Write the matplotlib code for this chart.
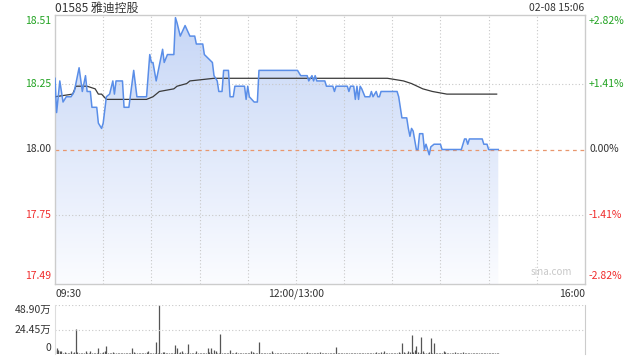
import numpy as np
import matplotlib
matplotlib.use('Agg')
import matplotlib.pyplot as plt
from matplotlib import transforms
from matplotlib.path import Path
from matplotlib.patches import PathPatch

plt.rcParams['font.family'] = ['Noto Sans CJK SC', 'DejaVu Sans']

# Stock info
title = '01585 雅迪控股'
stamp = '02-08 15:06'
prev_close = 18.00

# Price line: minutes since 09:30 (12:00 and 13:00 share minute 150), price
price_min = [0, 1, 3, 5, 7, 10, 12, 15, 17, 19, 20, 22, 23, 26, 27, 29, 30, 32, 34, 36,
             37, 38, 42, 43, 46, 49, 51, 57, 59, 60, 61, 63, 65, 67, 68, 70, 74, 75, 76, 78,
             81, 84, 87, 88, 92, 93, 98, 99, 101, 102, 104, 105, 108, 109, 111, 112, 118, 119, 120, 121,
             124, 126, 127, 151, 153, 157, 158, 160, 161, 162, 163, 165, 168, 169, 173, 174, 175, 182, 183, 184,
             186, 187, 188, 189, 190, 191, 193, 196, 197, 198, 200, 201, 202, 203, 213, 214, 215, 216, 219, 220,
             221, 222, 223, 225, 226, 227, 229, 230, 231, 233, 234, 236, 240, 241, 253, 255, 256, 257, 258, 266,
             267, 269, 270, 276]
price_val = [18.27, 18.14, 18.26, 18.18, 18.20, 18.20, 18.22, 18.31, 18.22, 18.28, 18.22, 18.22, 18.16, 18.16, 18.10, 18.08, 18.10, 18.20, 18.21, 18.26,
             18.21, 18.26, 18.26, 18.16, 18.16, 18.30, 18.20, 18.20, 18.36, 18.33, 18.33, 18.26, 18.32, 18.38, 18.33, 18.36, 18.36, 18.50, 18.48, 18.43,
             18.47, 18.43, 18.43, 18.40, 18.40, 18.36, 18.33, 18.28, 18.26, 18.22, 18.22, 18.30, 18.30, 18.20, 18.20, 18.24, 18.24, 18.19, 18.24, 18.20,
             18.18, 18.18, 18.30, 18.30, 18.28, 18.28, 18.26, 18.28, 18.26, 18.28, 18.26, 18.26, 18.26, 18.24, 18.24, 18.22, 18.24, 18.24, 18.22, 18.24,
             18.24, 18.19, 18.24, 18.19, 18.24, 18.23, 18.20, 18.20, 18.22, 18.20, 18.22, 18.20, 18.20, 18.22, 18.22, 18.20, 18.16, 18.12, 18.12, 18.08,
             18.05, 18.08, 18.07, 18.00, 18.00, 18.06, 18.06, 18.00, 18.02, 17.98, 18.01, 18.02, 18.02, 18.00, 18.00, 18.04, 18.04, 18.02, 18.04, 18.04,
             18.02, 18.02, 18.00, 18.00]

# Average price line
avg_min = [0, 11, 13, 20, 25, 27, 29, 32, 57, 61, 65, 74, 76, 82, 84, 99, 111, 126, 165, 207,
           217, 222, 229, 235, 244, 256, 275]
avg_val = [18.20, 18.21, 18.24, 18.24, 18.23, 18.21, 18.21, 18.19, 18.19, 18.20, 18.22, 18.23, 18.24, 18.25, 18.26, 18.27, 18.27, 18.27, 18.27, 18.27,
           18.26, 18.25, 18.23, 18.22, 18.21, 18.21, 18.21]

# Volume per minute (万股), minute 0 .. 276
volume = [4, 6, 4, 3, 2.5, 1, 1.5, 1, 0.8, 1.2, 2.5, 1, 1.5, 25, 1.5, 1, 0.8, 1, 1.2, 2.5, 1, 0.8, 2.5, 1, 0.7, 0.8, 1, 5.7, 1.2, 1,
          1.5, 3, 8, 1, 1.2, 1, 2, 1, 0.8, 1, 0.7, 0.6, 1, 0.8, 1, 0.6, 0.8, 1, 5.7, 1.5, 1, 0.8, 0.6, 0.7, 1, 0.8, 1, 1.5, 3, 1,
          1, 0.8, 1.2, 12, 1, 48.9, 1, 1.5, 2, 1, 0.8, 1, 0.7, 1, 1.2, 9, 6, 1, 2, 3, 1, 0.8, 1, 10, 1, 0.8, 1.2, 1, 3, 1,
          0.8, 1, 1.2, 1, 0.8, 6, 1.5, 6, 1.2, 4, 2.5, 1, 1.2, 20, 1, 0.8, 1, 1.2, 1, 4, 1, 0.8, 1, 1.5, 0.8, 1, 0.7, 0.8, 1, 0.6,
          0.8, 1, 2.5, 2, 1, 0.8, 1, 12, 1, 0.8, 1, 0.7, 1, 0.8, 1, 2.5, 1, 0.8, 0.7, 1, 0.8, 0.6, 1, 0.8, 0.7, 1, 0.6, 0.8, 1, 0.7,
          1, 0.8, 1.2, 1, 0.7, 0.8, 1, 1.5, 0.8, 1, 1.2, 0.8, 1, 0.7, 1, 1.5, 1, 0.8, 1, 0.7, 1, 0.8, 1, 1, 1.2, 7.3, 1, 0.8, 1, 0.7,
          1, 0.8, 1, 1.2, 0.8, 1, 0.7, 1, 0.8, 1, 1.2, 1, 0.8, 1, 1, 0.7, 1, 0.8, 1.2, 1, 1.5, 0.8, 1, 1.5, 1, 3, 1, 1.2, 1, 0.8,
          1, 1.2, 1, 0.8, 1.5, 1, 11, 1.5, 1, 1.2, 3, 1.5, 19, 1.5, 4, 8, 1.5, 1, 17, 3, 1, 1.2, 1, 1.5, 16, 1, 11, 1.2, 1, 0.8,
          1, 1.2, 3, 1.5, 1, 1.2, 1, 0.8, 1, 1.5, 1, 1.2, 1, 1, 2, 1, 0.8, 1, 1.2, 1, 0.8, 1, 1.2, 1, 0.8, 1, 1, 0.8, 1, 1.2,
          1, 0.8, 1, 1.2, 0.8, 1, 0.8]

# Axis labels
price_ticks = [18.51, 18.25, 18.00, 17.75, 17.49]
price_labels = ['18.51', '18.25', '18.00', '17.75', '17.49']
pct_labels = ['+2.82%', '+1.41%', '0.00%', '-1.41%', '-2.82%']
time_labels = ['09:30', '12:00/13:00', '16:00']
vol_ticks = [48.90, 24.45, 0]
vol_labels = ['48.90万', '24.45万', '0']

green = '#22a322'
red = '#f02c2c'
dark = '#333333'
grid_c = '#c8c8c8'
blue = '#5a8ee8'

fig = plt.figure(figsize=(6.4, 3.6), dpi=100)
ax = fig.add_axes([55 / 640, 1 - 284 / 360, 530 / 640, 269 / 360])
axv = fig.add_axes([55 / 640, 1 - 354 / 360, 530 / 640, 49 / 360])

ax.set_xlim(0, 330)
ax.set_ylim(17.49, 18.51)

# gradient fill under the price line
pm = np.array(price_min, dtype=float)
pv = np.array(price_val)
verts = np.column_stack([np.r_[pm[0], pm, pm[-1]], np.r_[17.49, pv, 17.49]])
clip = PathPatch(Path(verts), facecolor='none', edgecolor='none')
ax.add_patch(clip)
top_c = np.array([198, 214, 246]) / 255
bot_c = np.array([251, 252, 255]) / 255
t = np.linspace(0, 1, 256)[:, None]
grad = (top_c * (1 - t) + bot_c * t)[:, None, :]
im = ax.imshow(grad, extent=[0, 330, 17.49, 18.51], aspect='auto', origin='upper', zorder=1)
im.set_clip_path(clip)

# grid lines
for m in range(30, 330, 30):
    ax.axvline(m, color=grid_c, lw=0.8, ls=(0, (1, 2)), zorder=2)
for p in [18.25, 17.75]:
    ax.axhline(p, color=grid_c, lw=0.8, ls=(0, (1, 2)), zorder=2)
ax.axhline(prev_close, color='#e8976e', lw=0.9, ls=(0, (3, 3)), zorder=2)

ax.plot(price_min, price_val, color=blue, lw=1.1, zorder=4)
ax.plot(avg_min, avg_val, color='#3a3a3a', lw=0.9, zorder=3)

for s in ax.spines.values():
    s.set_color('#cccccc')
    s.set_linewidth(1)
ax.set_xticks([])
ax.set_yticks([])

lt = transforms.blended_transform_factory(fig.transFigure, ax.transData)
colors_lab = [green, green, dark, red, red]
for i, (p, a, b) in enumerate(zip(price_ticks, price_labels, pct_labels)):
    va = 'top' if i == 0 else ('bottom' if i == len(price_ticks) - 1 else 'center')
    yy = p
    if i == 0:
        yy = 18.51 - 0.005
    if i == len(price_ticks) - 1:
        yy = 17.49 + 0.01
    ax.text(51 / 640, yy, a, transform=lt, ha='right', va=va, color=colors_lab[i], fontsize=7.5)
    ax.text(589 / 640, yy, b, transform=lt, ha='left', va=va, color=colors_lab[i], fontsize=7.5)

ax.text(0, -0.018, time_labels[0], transform=ax.transAxes, ha='left', va='top', fontsize=7.5, color=dark)
ax.text(150 / 330, -0.018, time_labels[1], transform=ax.transAxes, ha='center', va='top', fontsize=7.5, color=dark)
ax.text(1, -0.018, time_labels[2], transform=ax.transAxes, ha='right', va='top', fontsize=7.5, color=dark)
ax.text(0.937, 0.025, 'sina.com', transform=ax.transAxes, ha='center', va='bottom', fontsize=7, color='#c8c8c8')

fig.text(55 / 640, 1 - 8 / 360, title, ha='left', va='center', fontsize=8.6, color=dark)
fig.text(584 / 640, 1 - 8 / 360, stamp, ha='right', va='center', fontsize=7.5, color=dark)

# volume panel
axv.set_xlim(0, 330)
axv.set_ylim(0, 48.9)
axv.vlines(np.arange(len(volume)), 0, volume, color='#555555', lw=0.9)
axv.axhline(24.45, color=grid_c, lw=0.8, ls=(0, (1, 2)))
axv.axhline(48.9, color=grid_c, lw=0.8, ls=(0, (1, 2)))
axv.set_xticks([])
axv.set_yticks([])
axv.spines['top'].set_visible(False)
axv.spines['bottom'].set_visible(False)
axv.spines['left'].set_color('#dddddd')
axv.spines['right'].set_color('#cccccc')

vt = transforms.blended_transform_factory(fig.transFigure, axv.transData)
for v, lab in zip(vol_ticks, vol_labels):
    va = 'top' if v == vol_ticks[0] else ('bottom' if v == 0 else 'center')
    axv.text(51 / 640, v + (1 if v == 0 else 0), lab, transform=vt, ha='right', va=va, fontsize=7.5, color=dark)

fig.savefig('out.png', dpi=100)
